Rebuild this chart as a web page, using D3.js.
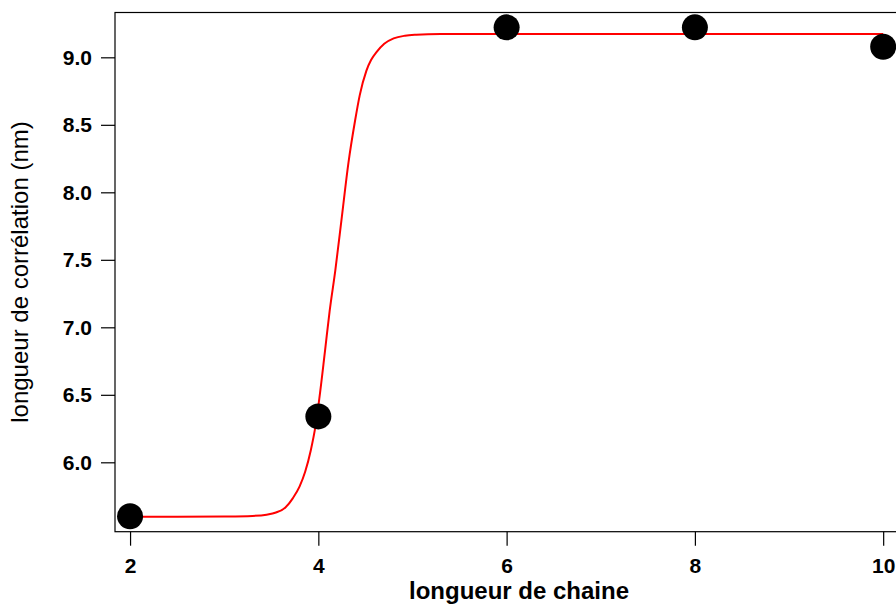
<!DOCTYPE html>
<html>
<head>
<meta charset="utf-8">
<script src="https://cdn.jsdelivr.net/npm/d3@7/dist/d3.min.js"></script>
<style>
  html, body { margin: 0; padding: 0; background: #fff; }
  svg { display: block; }
</style>
</head>
<body>
<svg id="chart" width="896" height="606"></svg>
<script>
// ---- data ----
const chainLength = [2, 4, 6, 8, 10];
const correlationLength = [5.60, 6.34, 9.222, 9.222, 9.078];

// fitted curve
const fitX = [2.0, 2.5, 3.0, 3.3, 3.45, 3.55, 3.65, 3.73, 3.8, 3.86, 3.92, 3.97, 4.01, 4.07, 4.12, 4.18, 4.25, 4.32, 4.39, 4.44, 4.51, 4.56, 4.62, 4.7, 4.8, 4.92, 5.04, 5.3, 6, 7, 8, 9, 10];
const fitY = [5.597, 5.597, 5.599, 5.603, 5.612, 5.628, 5.665, 5.735, 5.82, 5.93, 6.09, 6.27, 6.47, 6.82, 7.12, 7.42, 7.82, 8.22, 8.53, 8.72, 8.90, 8.98, 9.04, 9.10, 9.14, 9.16, 9.167, 9.172, 9.173, 9.173, 9.173, 9.173, 9.173];

const xTicks = [2, 4, 6, 8, 10];
const yTicks = [6.0, 6.5, 7.0, 7.5, 8.0, 8.5, 9.0];

const xTitle = "longueur de chaine";
const yTitle = "longueur de corrélation (nm)";

// ---- chart ----
const svg = d3.select("#chart");
const plotL = 115, plotR = 902, plotT = 12.5, plotB = 531.7;

const x = d3.scaleLinear().domain([1.84, 10.2]).range([plotL, plotR]);
const y = d3.scaleLinear().domain([5.486, 9.332]).range([plotB, plotT]);

const font = "'Liberation Sans', Arial, Helvetica, sans-serif";

// frame
svg.append("rect")
  .attr("x", plotL).attr("y", plotT)
  .attr("width", plotR - plotL).attr("height", plotB - plotT)
  .attr("fill", "none").attr("stroke", "#000").attr("stroke-width", 1.2);

// axes
const xAxis = svg.append("g")
  .attr("transform", `translate(0,${plotB})`)
  .call(d3.axisBottom(x).tickValues(xTicks).tickFormat(d3.format("d")).tickSize(14).tickPadding(12).tickSizeOuter(0));
const yAxis = svg.append("g")
  .attr("transform", `translate(${plotL},0)`)
  .call(d3.axisLeft(y).tickValues(yTicks).tickFormat(d3.format(".1f")).tickSize(14).tickPadding(9).tickSizeOuter(0));

[xAxis, yAxis].forEach(g => {
  g.select(".domain").remove();
  g.selectAll(".tick line").attr("stroke", "#000").attr("stroke-width", 1.2);
  g.selectAll(".tick text")
    .attr("fill", "#000")
    .style("font-family", font)
    .style("font-size", "21px")
    .style("font-weight", "bold");
});

// fitted curve
const fit = fitX.map((d, i) => [d, fitY[i]]);
svg.append("path")
  .datum(fit)
  .attr("fill", "none")
  .attr("stroke", "#ff0000")
  .attr("stroke-width", 2)
  .attr("d", d3.line().x(d => x(d[0])).y(d => y(d[1])).curve(d3.curveMonotoneX));

// data points
svg.append("g").selectAll("circle")
  .data(chainLength.map((d, i) => [d, correlationLength[i]]))
  .join("circle")
  .attr("cx", d => x(d[0]))
  .attr("cy", d => y(d[1]))
  .attr("r", 13)
  .attr("fill", "#000");

// titles
svg.append("text")
  .attr("x", 519).attr("y", 599)
  .attr("text-anchor", "middle")
  .style("font-family", font)
  .style("font-size", "24px")
  .style("font-weight", "bold")
  .text(xTitle);

svg.append("text")
  .attr("transform", "translate(28,272) rotate(-90)")
  .attr("text-anchor", "middle")
  .style("font-family", font)
  .style("font-size", "24px")
  .text(yTitle);
</script>
</body>
</html>
